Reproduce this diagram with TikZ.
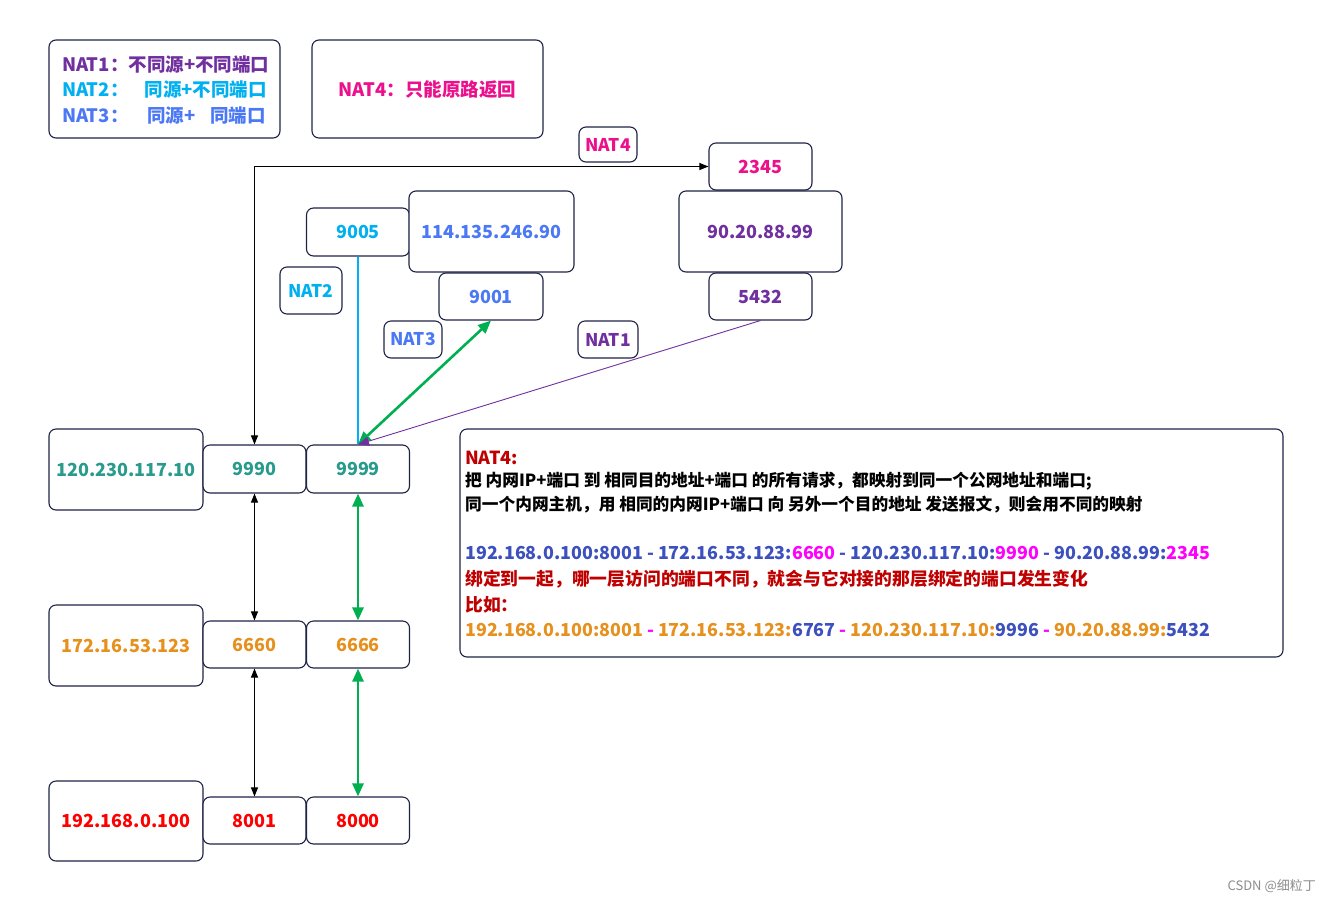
\documentclass[tikz,border=0pt]{standalone}
\usepackage{fontspec}
\setmainfont{Noto Sans CJK SC}
\usetikzlibrary{arrows.meta}
\definecolor{boxc}{RGB}{30,35,70}
\definecolor{cpurple}{RGB}{112,48,160}
\definecolor{ccyan}{RGB}{0,176,240}
\definecolor{cblue}{RGB}{75,120,245}
\definecolor{cpink}{RGB}{236,16,140}
\definecolor{cteal}{RGB}{40,155,140}
\definecolor{corange}{RGB}{230,145,30}
\definecolor{cred}{RGB}{255,0,0}
\definecolor{cdred}{RGB}{192,0,0}
\definecolor{cdblue}{RGB}{60,80,190}
\definecolor{cmag}{RGB}{255,0,255}
\definecolor{cgreen}{RGB}{0,176,80}
\tikzset{
  box/.style={draw=boxc, line width=1.1pt, rounded corners=7pt, fill=white, inner sep=0pt,
    font=\bfseries\fontsize{18}{20}\selectfont},
  lbl/.style={box, font=\bfseries\fontsize{17.5}{20}\selectfont},
  txt/.style={inner sep=0pt, anchor=west},
  blk/.style={black, line width=1pt, {Triangle[length=9pt,width=7pt]}-{Triangle[length=9pt,width=7pt]}},
  grn/.style={cgreen, line width=2.6pt, {Triangle[length=13pt,width=11pt]}-{Triangle[length=13pt,width=11pt]}},
}
\begin{document}
\begin{tikzpicture}[x=1pt,y=-1pt]
\useasboundingbox (0,0) rectangle (1331,903);
% legend boxes
\node[box, minimum width=231pt, minimum height=98pt] (leg1) at (164.5,89) {};
\node[box, minimum width=231pt, minimum height=98pt] (leg2) at (427.5,89) {};
\begin{scope}[font=\bfseries\fontsize{18.5}{20}\selectfont]
\node[txt, text=cpurple] (l1) at (62,65) {NAT1：不同源+不同端口};
\node[txt, text=ccyan] (l2a) at (62,90) {NAT2：};
\node[txt, text=ccyan, anchor=east] (l2b) at (267,90) {同源+不同端口};
\node[txt, text=cblue] (l3a) at (62,116) {NAT3：};
\node[txt, text=cblue] (l3b) at (147,116) {同源+};
\node[txt, text=cblue, anchor=east] (l3c) at (266,116) {同端口};
\node[text=cpink, inner sep=0pt] (l4) at (427.5,90) {NAT4：只能原路返回};
\end{scope}
% upper nodes
\node[lbl, text=cpink, minimum width=58pt, minimum height=35pt] (nat4) at (608,144.5) {NAT4};
\node[box, text=cpink, minimum width=103pt, minimum height=47pt] (p2345) at (760.5,166.5) {2345};
\node[box, text=cpurple, minimum width=163pt, minimum height=81pt] (ip90) at (760.5,231.5) {90.20.88.99};
\node[box, text=cpurple, minimum width=103pt, minimum height=47pt] (p5432) at (760.5,296.5) {5432};
\node[box, text=ccyan, minimum width=103pt, minimum height=48pt] (p9005) at (358,232) {9005};
\node[box, text=cblue, minimum width=165pt, minimum height=81pt] (ip114) at (491.5,231.5) {114.135.246.90};
\node[box, text=cblue, minimum width=104pt, minimum height=47pt] (p9001) at (491,296.5) {9001};
\node[lbl, text=ccyan, minimum width=62pt, minimum height=47pt] (nat2) at (311,290.5) {NAT2};
\node[lbl, text=cblue, minimum width=58pt, minimum height=37pt] (nat3) at (413,339.5) {NAT3};
\node[lbl, text=cpurple, minimum width=60pt, minimum height=37pt] (nat1) at (608,339.5) {NAT1};
% left column
\node[box, text=cteal, minimum width=154pt, minimum height=81pt] (ip120) at (126,469.5) {120.230.117.10};
\node[box, text=cteal, minimum width=103pt, minimum height=48pt] (p9990) at (254.5,469) {9990};
\node[box, text=cteal, minimum width=103pt, minimum height=48pt] (p9999) at (358,469) {9999};
\node[box, text=corange, minimum width=154pt, minimum height=81pt] (ip172) at (126,645.5) {172.16.53.123};
\node[box, text=corange, minimum width=103pt, minimum height=47pt] (p6660) at (254.5,644.5) {6660};
\node[box, text=corange, minimum width=103pt, minimum height=47pt] (p6666) at (358,644.5) {6666};
\node[box, text=cred, minimum width=154pt, minimum height=80pt] (ip192) at (126,821) {192.168.0.100};
\node[box, text=cred, minimum width=103pt, minimum height=47pt] (p8001) at (254.5,820.5) {8001};
\node[box, text=cred, minimum width=103pt, minimum height=47pt] (p8000) at (358,820.5) {8000};
% connectors
\draw[blk] (p9990.north) |- (p2345.west);
\draw[blk] (p9990.south) -- (p6660.north);
\draw[blk] (p6660.south) -- (p8001.north);
\draw[grn] (p9999.south) -- (p6666.north);
\draw[grn] (p6666.south) -- (p8000.north);
\draw[ccyan, line width=1.3pt] (p9005.south) -- (p9999.north);
\draw[grn] (p9999.north) -- (p9001.south);
\draw[cpurple, line width=0.9pt, -{Triangle[length=11pt,width=9pt]}] (p5432.south) -- (p9999.north);
% text box
\node[box, minimum width=823pt, minimum height=228pt] (tb) at (871.5,543) {};
\node[txt, text=cdred, font=\bfseries\fontsize{18}{20}\selectfont] (t1) at (465,458) {NAT4:};
\node[txt, font=\bfseries\fontsize{16.7}{18}\selectfont] (t2) at (465,481) {把 内网IP+端口 到 相同目的地址+端口 的所有请求，都映射到同一个公网地址和端口;};
\node[txt, font=\bfseries\fontsize{16.7}{18}\selectfont] (t3) at (465,505) {同一个内网主机，用 相同的内网IP+端口 向 另外一个目的地址 发送报文，则会用不同的映射};
\node[txt, text=cdblue, font=\bfseries\fontsize{17.9}{20}\selectfont] (t4) at (465,553) {192.168.0.100:8001 - 172.16.53.123:\textcolor{cmag}{6660} - 120.230.117.10:\textcolor{cmag}{9990} - 90.20.88.99:\textcolor{cmag}{2345}};
\node[txt, text=cdred, font=\bfseries\fontsize{17.8}{20}\selectfont] (t5) at (465,579) {绑定到一起，哪一层访问的端口不同，就会与它对接的那层绑定的端口发生变化};
\node[txt, text=cdred, font=\bfseries\fontsize{17.8}{20}\selectfont] (t6) at (465,605) {比如：};
\node[txt, text=corange, font=\bfseries\fontsize{17.9}{20}\selectfont] (t7) at (465,630) {192.168.0.100:8001 \textcolor{cmag}{-} 172.16.53.123:\textcolor{cdblue}{6767} \textcolor{cmag}{-} 120.230.117.10:\textcolor{cdblue}{9996} \textcolor{cmag}{-} 90.20.88.99:\textcolor{cdblue}{5432}};
% watermark
\node[txt, anchor=east, text=black!45, font=\fontsize{13}{15}\selectfont] (wm) at (1316,886) {CSDN @细粒丁};
\end{tikzpicture}
\end{document}
